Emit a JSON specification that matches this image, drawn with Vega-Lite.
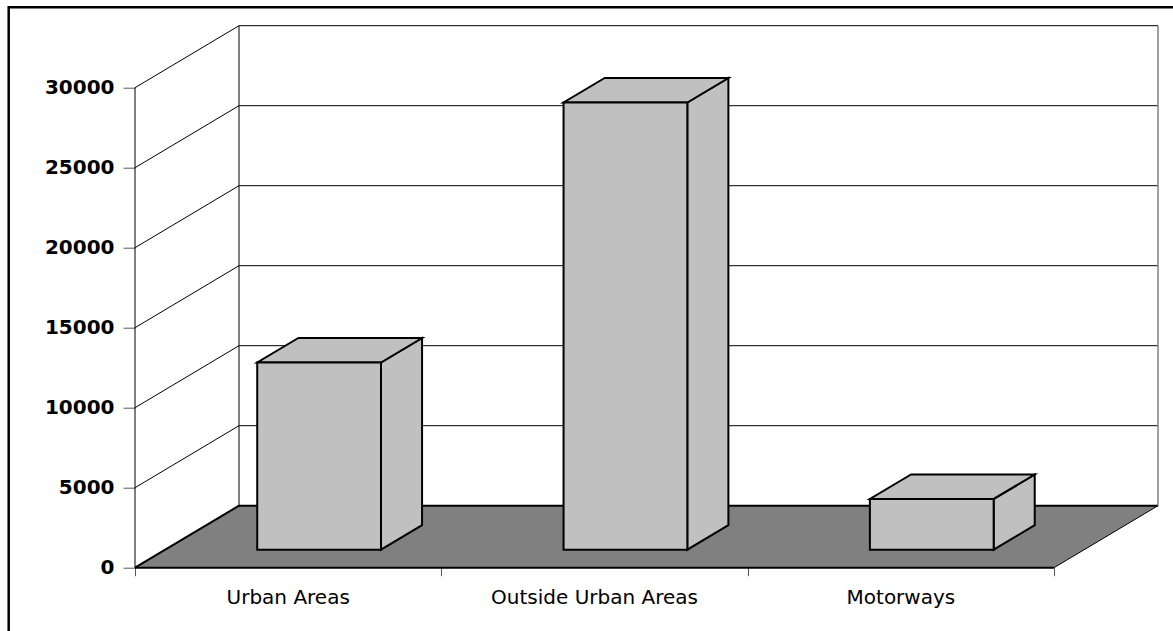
{
  "$schema": "https://vega.github.io/schema/vega-lite/v6.json",
  "width": 1023,
  "height": 542,
  "autosize": {"type": "none"},
  "padding": {"left": 135, "top": 25.7, "right": 15, "bottom": 63.3},
  "background": "white",
  "config": {"view": {"stroke": null}},
  "datasets": {
    "roads": [
      {"category": "Urban Areas", "value": 11700},
      {"category": "Outside Urban Areas", "value": 27950},
      {"category": "Motorways", "value": 3170}
    ],
    "ticks": [{"v": 0}, {"v": 5000}, {"v": 10000}, {"v": 15000}, {"v": 20000}, {"v": 25000}, {"v": 30000}],
    "depth": [{"d": 0}, {"d": 1}]
  },
  "data": {"name": "roads"},
  "resolve": {"scale": {"x": "independent"}, "axis": {"x": "independent"}},
  "layer": [
    {
      "mark": {"type": "bar", "opacity": 0},
      "encoding": {
        "x": {
          "field": "category", "type": "nominal", "sort": null,
          "scale": {"type": "band", "paddingInner": 0, "paddingOuter": 0.16966, "align": 0},
          "axis": {"orient": "bottom", "title": null, "domain": false, "ticks": false, "tickSize": 0, "labelPadding": 20, "labelFont": "DejaVu Sans", "labelFontSize": 20, "labelColor": "black", "labelAngle": 0, "labelLimit": 0, "labelOverlap": false, "grid": false}
        }
      }
    },
    {
      "layer": [
        {
          "data": {"name": "depth"},
          "transform": [
            {"calculate": "datum.d * 3875", "as": "fy"},
            {"calculate": "datum.d * 0.3395", "as": "fx0"},
            {"calculate": "3 + datum.d * 0.3395", "as": "fx1"}
          ],
          "mark": {"type": "area", "orient": "horizontal", "fill": "#808080"},
          "encoding": {
            "y": {"field": "fy", "type": "quantitative", "scale": {"domain": [0, 33875], "nice": false, "zero": false},
              "axis": {"values": [0, 5000, 10000, 15000, 20000, 25000, 30000], "format": "d", "title": null, "domain": false, "grid": false, "ticks": true, "tickSize": 12, "tickColor": "#555555", "tickWidth": 1, "labelPadding": 9, "labelFont": "DejaVu Sans", "labelFontSize": 20, "labelFontWeight": "bold", "labelColor": "black", "labelOverlap": false}},
            "x": {"field": "fx0", "type": "quantitative", "scale": {"domain": [0, 3.3395], "nice": false, "zero": false},
              "axis": {"orient": "bottom", "values": [0, 1, 2, 3], "labels": false, "title": null, "domain": false, "grid": false, "tickSize": 8, "tickColor": "#555555", "tickWidth": 1}},
            "x2": {"field": "fx1"}
          }
        },
        {
          "data": {"name": "ticks"},
          "transform": [{"calculate": "datum.v + 3875", "as": "bv"}],
          "mark": {"type": "rule", "color": "black"},
          "encoding": {
            "x": {"datum": 0.3395, "type": "quantitative", "scale": {"domain": [0, 3.3395], "nice": false, "zero": false},
              "axis": {"orient": "bottom", "values": [0, 1, 2, 3], "labels": false, "title": null, "domain": false, "grid": false, "tickSize": 8, "tickColor": "#555555", "tickWidth": 1}},
            "x2": {"datum": 3.3395},
            "y": {"field": "bv", "type": "quantitative", "scale": {"domain": [0, 33875], "nice": false, "zero": false},
              "axis": {"values": [0, 5000, 10000, 15000, 20000, 25000, 30000], "format": "d", "title": null, "domain": false, "grid": false, "ticks": true, "tickSize": 12, "tickColor": "#555555", "tickWidth": 1, "labelPadding": 9, "labelFont": "DejaVu Sans", "labelFontSize": 20, "labelFontWeight": "bold", "labelColor": "black", "labelOverlap": false}},
            "strokeWidth": {"condition": {"test": "datum.v === 0", "value": 2}, "value": 1}
          }
        },
        {
          "data": {"name": "ticks"},
          "transform": [{"calculate": "datum.v + 3875", "as": "bv"}],
          "mark": {"type": "rule", "color": "black"},
          "encoding": {
            "x": {"datum": 0, "type": "quantitative", "scale": {"domain": [0, 3.3395], "nice": false, "zero": false},
              "axis": {"orient": "bottom", "values": [0, 1, 2, 3], "labels": false, "title": null, "domain": false, "grid": false, "tickSize": 8, "tickColor": "#555555", "tickWidth": 1}},
            "x2": {"datum": 0.3395},
            "y": {"field": "v", "type": "quantitative", "scale": {"domain": [0, 33875], "nice": false, "zero": false},
              "axis": {"values": [0, 5000, 10000, 15000, 20000, 25000, 30000], "format": "d", "title": null, "domain": false, "grid": false, "ticks": true, "tickSize": 12, "tickColor": "#555555", "tickWidth": 1, "labelPadding": 9, "labelFont": "DejaVu Sans", "labelFontSize": 20, "labelFontWeight": "bold", "labelColor": "black", "labelOverlap": false}},
            "y2": {"field": "bv"},
            "strokeWidth": {"condition": {"test": "datum.v === 0", "value": 2}, "value": 1}
          }
        },
        {
          "data": {"values": [{"k": 0}]},
          "mark": {"type": "rule", "color": "black", "strokeWidth": 1},
          "encoding": {
            "x": {"datum": 0.3395, "type": "quantitative", "scale": {"domain": [0, 3.3395], "nice": false, "zero": false},
              "axis": {"orient": "bottom", "values": [0, 1, 2, 3], "labels": false, "title": null, "domain": false, "grid": false, "tickSize": 8, "tickColor": "#555555", "tickWidth": 1}},
            "y": {"datum": 3875, "type": "quantitative", "scale": {"domain": [0, 33875], "nice": false, "zero": false},
              "axis": {"values": [0, 5000, 10000, 15000, 20000, 25000, 30000], "format": "d", "title": null, "domain": false, "grid": false, "ticks": true, "tickSize": 12, "tickColor": "#555555", "tickWidth": 1, "labelPadding": 9, "labelFont": "DejaVu Sans", "labelFontSize": 20, "labelFontWeight": "bold", "labelColor": "black", "labelOverlap": false}},
            "y2": {"datum": 33875}
          }
        },
        {
          "data": {"values": [{"k": 0}]},
          "mark": {"type": "rule", "color": "#808080", "strokeWidth": 1.5},
          "encoding": {
            "x": {"datum": 3.3395, "type": "quantitative", "scale": {"domain": [0, 3.3395], "nice": false, "zero": false},
              "axis": {"orient": "bottom", "values": [0, 1, 2, 3], "labels": false, "title": null, "domain": false, "grid": false, "tickSize": 8, "tickColor": "#555555", "tickWidth": 1}},
            "y": {"datum": 3875, "type": "quantitative", "scale": {"domain": [0, 33875], "nice": false, "zero": false},
              "axis": {"values": [0, 5000, 10000, 15000, 20000, 25000, 30000], "format": "d", "title": null, "domain": false, "grid": false, "ticks": true, "tickSize": 12, "tickColor": "#555555", "tickWidth": 1, "labelPadding": 9, "labelFont": "DejaVu Sans", "labelFontSize": 20, "labelFontWeight": "bold", "labelColor": "black", "labelOverlap": false}},
            "y2": {"datum": 33875}
          }
        },
        {
          "data": {"values": [{"k": 0}]},
          "mark": {"type": "rule", "color": "black", "strokeWidth": 1},
          "encoding": {
            "x": {"datum": 0, "type": "quantitative", "scale": {"domain": [0, 3.3395], "nice": false, "zero": false},
              "axis": {"orient": "bottom", "values": [0, 1, 2, 3], "labels": false, "title": null, "domain": false, "grid": false, "tickSize": 8, "tickColor": "#555555", "tickWidth": 1}},
            "y": {"datum": 0, "type": "quantitative", "scale": {"domain": [0, 33875], "nice": false, "zero": false},
              "axis": {"values": [0, 5000, 10000, 15000, 20000, 25000, 30000], "format": "d", "title": null, "domain": false, "grid": false, "ticks": true, "tickSize": 12, "tickColor": "#555555", "tickWidth": 1, "labelPadding": 9, "labelFont": "DejaVu Sans", "labelFontSize": 20, "labelFontWeight": "bold", "labelColor": "black", "labelOverlap": false}},
            "y2": {"datum": 30000}
          }
        },
        {
          "data": {"values": [{"k": 0}]},
          "mark": {"type": "rule", "color": "black", "strokeWidth": 2},
          "encoding": {
            "x": {"datum": 0, "type": "quantitative", "scale": {"domain": [0, 3.3395], "nice": false, "zero": false},
              "axis": {"orient": "bottom", "values": [0, 1, 2, 3], "labels": false, "title": null, "domain": false, "grid": false, "tickSize": 8, "tickColor": "#555555", "tickWidth": 1}},
            "x2": {"datum": 3},
            "y": {"datum": 0, "type": "quantitative", "scale": {"domain": [0, 33875], "nice": false, "zero": false},
              "axis": {"values": [0, 5000, 10000, 15000, 20000, 25000, 30000], "format": "d", "title": null, "domain": false, "grid": false, "ticks": true, "tickSize": 12, "tickColor": "#555555", "tickWidth": 1, "labelPadding": 9, "labelFont": "DejaVu Sans", "labelFontSize": 20, "labelFontWeight": "bold", "labelColor": "black", "labelOverlap": false}}
          }
        },
        {
          "data": {"values": [{"k": 0}]},
          "mark": {"type": "rule", "color": "black", "strokeWidth": 1},
          "encoding": {
            "x": {"datum": 3, "type": "quantitative", "scale": {"domain": [0, 3.3395], "nice": false, "zero": false},
              "axis": {"orient": "bottom", "values": [0, 1, 2, 3], "labels": false, "title": null, "domain": false, "grid": false, "tickSize": 8, "tickColor": "#555555", "tickWidth": 1}},
            "x2": {"datum": 3.3395},
            "y": {"datum": 0, "type": "quantitative", "scale": {"domain": [0, 33875], "nice": false, "zero": false},
              "axis": {"values": [0, 5000, 10000, 15000, 20000, 25000, 30000], "format": "d", "title": null, "domain": false, "grid": false, "ticks": true, "tickSize": 12, "tickColor": "#555555", "tickWidth": 1, "labelPadding": 9, "labelFont": "DejaVu Sans", "labelFontSize": 20, "labelFontWeight": "bold", "labelColor": "black", "labelOverlap": false}},
            "y2": {"datum": 3875}
          }
        },
        {
          "data": {"values": [{"k": 0}]},
          "mark": {"type": "rect", "fillOpacity": 0, "stroke": "black", "strokeWidth": 2.5},
          "encoding": {
            "x": {"datum": -0.4123, "type": "quantitative", "scale": {"domain": [0, 3.3395], "nice": false, "zero": false},
              "axis": {"orient": "bottom", "values": [0, 1, 2, 3], "labels": false, "title": null, "domain": false, "grid": false, "tickSize": 8, "tickColor": "#555555", "tickWidth": 1}},
            "x2": {"datum": 3.5},
            "y": {"datum": 35031, "type": "quantitative", "scale": {"domain": [0, 33875], "nice": false, "zero": false},
              "axis": {"values": [0, 5000, 10000, 15000, 20000, 25000, 30000], "format": "d", "title": null, "domain": false, "grid": false, "ticks": true, "tickSize": 12, "tickColor": "#555555", "tickWidth": 1, "labelPadding": 9, "labelFont": "DejaVu Sans", "labelFontSize": 20, "labelFontWeight": "bold", "labelColor": "black", "labelOverlap": false}},
            "y2": {"datum": -5000}
          }
        },
        {
          "transform": [
            {"window": [{"op": "row_number", "as": "rn"}]},
            {"calculate": "datum.rn - 1 + 0.399", "as": "xl"},
            {"calculate": "datum.rn - 1 + 0.803", "as": "xr"},
            {"calculate": "1125 + datum.value", "as": "yt"},
            {"calculate": "[0, 1]", "as": "d"},
            {"flatten": ["d"]},
            {"calculate": "datum.xr + datum.d * 0.1341", "as": "sx"},
            {"calculate": "1125 + datum.d * 1531", "as": "sy0"},
            {"calculate": "datum.yt + datum.d * 1531", "as": "sy1"}
          ],
          "mark": {"type": "area", "fill": "#C0C0C0", "stroke": "black", "strokeWidth": 2, "strokeJoin": "miter"},
          "encoding": {
            "x": {"field": "sx", "type": "quantitative", "scale": {"domain": [0, 3.3395], "nice": false, "zero": false},
              "axis": {"orient": "bottom", "values": [0, 1, 2, 3], "labels": false, "title": null, "domain": false, "grid": false, "tickSize": 8, "tickColor": "#555555", "tickWidth": 1}},
            "y": {"field": "sy1", "type": "quantitative", "scale": {"domain": [0, 33875], "nice": false, "zero": false},
              "axis": {"values": [0, 5000, 10000, 15000, 20000, 25000, 30000], "format": "d", "title": null, "domain": false, "grid": false, "ticks": true, "tickSize": 12, "tickColor": "#555555", "tickWidth": 1, "labelPadding": 9, "labelFont": "DejaVu Sans", "labelFontSize": 20, "labelFontWeight": "bold", "labelColor": "black", "labelOverlap": false}},
            "y2": {"field": "sy0"},
            "detail": {"field": "category", "type": "nominal"}
          }
        },
        {
          "transform": [
            {"window": [{"op": "row_number", "as": "rn"}]},
            {"calculate": "datum.rn - 1 + 0.399", "as": "xl"},
            {"calculate": "datum.rn - 1 + 0.803", "as": "xr"},
            {"calculate": "1125 + datum.value", "as": "yt"},
            {"calculate": "[0, 1]", "as": "d"},
            {"flatten": ["d"]},
            {"calculate": "datum.xl + datum.d * 0.1341", "as": "tx0"},
            {"calculate": "datum.xr + datum.d * 0.1341", "as": "tx1"},
            {"calculate": "datum.yt + datum.d * 1531", "as": "ty"}
          ],
          "mark": {"type": "area", "orient": "horizontal", "fill": "#C0C0C0", "stroke": "black", "strokeWidth": 2, "strokeJoin": "miter"},
          "encoding": {
            "y": {"field": "ty", "type": "quantitative", "scale": {"domain": [0, 33875], "nice": false, "zero": false},
              "axis": {"values": [0, 5000, 10000, 15000, 20000, 25000, 30000], "format": "d", "title": null, "domain": false, "grid": false, "ticks": true, "tickSize": 12, "tickColor": "#555555", "tickWidth": 1, "labelPadding": 9, "labelFont": "DejaVu Sans", "labelFontSize": 20, "labelFontWeight": "bold", "labelColor": "black", "labelOverlap": false}},
            "x": {"field": "tx0", "type": "quantitative", "scale": {"domain": [0, 3.3395], "nice": false, "zero": false},
              "axis": {"orient": "bottom", "values": [0, 1, 2, 3], "labels": false, "title": null, "domain": false, "grid": false, "tickSize": 8, "tickColor": "#555555", "tickWidth": 1}},
            "x2": {"field": "tx1"},
            "detail": {"field": "category", "type": "nominal"}
          }
        },
        {
          "transform": [
            {"window": [{"op": "row_number", "as": "rn"}]},
            {"calculate": "datum.rn - 1 + 0.399", "as": "xl"},
            {"calculate": "datum.rn - 1 + 0.803", "as": "xr"},
            {"calculate": "1125 + datum.value", "as": "yt"},
            {"calculate": "1125", "as": "yb"}
          ],
          "mark": {"type": "rect", "fill": "#C0C0C0", "stroke": "black", "strokeWidth": 2},
          "encoding": {
            "x": {"field": "xl", "type": "quantitative", "scale": {"domain": [0, 3.3395], "nice": false, "zero": false},
              "axis": {"orient": "bottom", "values": [0, 1, 2, 3], "labels": false, "title": null, "domain": false, "grid": false, "tickSize": 8, "tickColor": "#555555", "tickWidth": 1}},
            "x2": {"field": "xr"},
            "y": {"field": "yt", "type": "quantitative", "scale": {"domain": [0, 33875], "nice": false, "zero": false},
              "axis": {"values": [0, 5000, 10000, 15000, 20000, 25000, 30000], "format": "d", "title": null, "domain": false, "grid": false, "ticks": true, "tickSize": 12, "tickColor": "#555555", "tickWidth": 1, "labelPadding": 9, "labelFont": "DejaVu Sans", "labelFontSize": 20, "labelFontWeight": "bold", "labelColor": "black", "labelOverlap": false}},
            "y2": {"field": "yb"}
          }
        }
      ]
    }
  ]
}
